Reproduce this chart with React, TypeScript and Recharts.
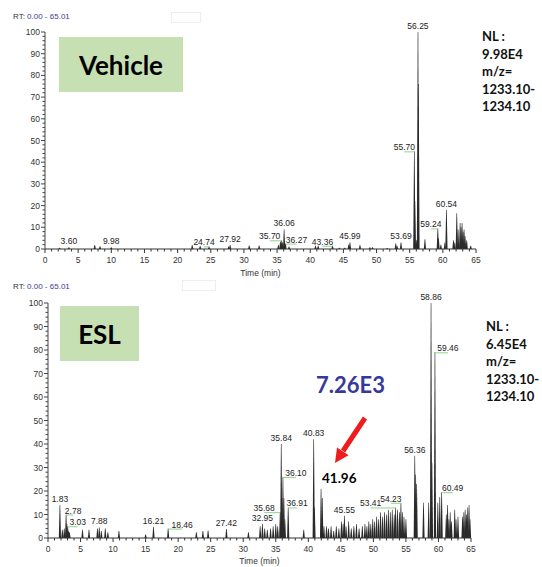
import React from "react";
import { ComposedChart, Bar, XAxis, YAxis } from "recharts";

// ---- Vehicle trace (relative abundance vs retention time) ----
const VEHICLE_TIME = [
  2.2, 3.6, 7.5, 8.3, 9.98, 22.2, 23.4, 24.74, 27.7, 27.92, 30.8, 32.3, 35.2, 35.5, 35.7, 35.85,
  36.06, 36.27, 36.8, 40.8, 41.2, 43.36, 44.4, 45.2, 45.8, 45.99, 47.5, 49.0, 49.4, 51.6, 52.9,
  53.1, 53.69, 55.7, 55.78, 56.0, 56.25, 56.32, 57.3, 59.24, 59.35, 59.7, 60.3, 60.54, 61.6, 61.8,
  62.1, 62.3, 62.6, 62.75, 62.9, 63.05, 63.2, 63.35, 63.6, 64.2,
];
const VEHICLE_INTENSITY = [
  0.6, 0.8, 1.8, 1.3, 0.8, 1.8, 1.4, 1.2, 1.2, 1.8, 1.6, 1.6, 1.8, 3.5, 4, 3,
  9, 2.5, 1.2, 1.5, 1.5, 1.5, 0.6, 0.6, 2, 3, 1.8, 0.8, 0.8, 0.5, 2.5,
  1.5, 3, 45, 22, 4, 100, 76, 4.5, 9.5, 5, 2, 3, 18, 4, 3,
  16.5, 9, 12, 10, 12, 8, 9, 6, 4, 1.5,
];
const VEHICLE_LABELS = [
  "3.60", "9.98", "24.74", "27.92", "35.70", "36.06", "36.27", "43.36", "45.99", "53.69",
  "55.70", "56.25", "59.24", "60.54",
];

// ---- ESL trace ----
const ESL_TIME = [
  1.83, 2.2, 2.5, 2.78, 2.9, 3.03, 3.15, 3.3, 5.3, 6.3, 7.6, 7.88, 8.2, 8.8, 9.2, 10.9, 15.0,
  16.21, 18.46, 22.8, 23.8, 24.6, 27.42, 30.8, 32.6, 32.95, 33.3, 33.7, 34.2, 34.6, 35.0, 35.3,
  35.68, 35.84, 35.95, 36.1, 36.25, 36.4, 36.91, 39.3, 40.83, 40.95, 41.96, 42.15, 42.4, 42.8,
  43.1, 43.5, 43.9, 44.3, 44.7, 45.1, 45.35, 45.55, 45.8, 46.2, 46.6, 47.0, 47.4, 47.8, 48.3,
  48.7, 49.0, 49.3, 49.6, 49.9, 50.2, 50.5, 50.8, 51.1, 51.4, 51.7, 52.0, 52.3, 52.6, 52.9,
  53.2, 53.41, 53.7, 54.0, 54.23, 54.45, 54.7, 55.0, 56.36, 56.5, 56.65, 57.7, 58.5, 58.86,
  59.0, 59.46, 59.9, 60.2, 60.49, 61.2, 61.4, 61.6, 61.8, 62.0, 62.5, 62.7, 63.0, 63.7, 63.9,
  64.1, 64.3, 64.5, 64.7, 64.85,
];
const ESL_INTENSITY = [
  14, 3.5, 4, 10, 6, 5, 3, 2.5, 3.5, 3.5, 4, 4.5, 3, 4, 2.5, 3, 1.5,
  4.8, 4, 2.5, 3, 3.2, 3.8, 2.5, 5, 6, 4, 3.5, 4, 5, 6, 5,
  11, 40, 17, 26, 17, 8, 13, 3.5, 42, 13, 21, 17, 5, 5,
  4, 5, 3, 5, 4, 7, 6, 9.5, 5, 7, 4, 5, 6, 4, 5,
  6, 5, 7, 6, 8, 7, 9, 8, 11, 9, 11, 10, 12, 11, 12,
  10, 13, 12, 11, 15, 11, 9, 8, 35, 27, 23, 15, 15, 100,
  32, 79, 15, 17.5, 19.5, 10, 14, 8, 11, 7, 12, 8, 9, 9, 11,
  12, 10, 13, 14, 8,
];
const ESL_LABELS = [
  "1.83", "2.78", "3.03", "7.88", "16.21", "18.46", "27.42", "32.95", "35.68", "35.84", "36.10",
  "36.91", "40.83", "45.55", "53.41", "54.23", "56.36", "58.86", "59.46", "60.49",
];

const X_MAJOR = [0, 5, 10, 15, 20, 25, 30, 35, 40, 45, 50, 55, 60, 65];
const Y_MAJOR = [0, 10, 20, 30, 40, 50, 60, 70, 80, 90, 100];
const X_TICKS = Array.from({ length: 66 }, (_, i) => i);
const Y_TICKS = Array.from({ length: 51 }, (_, i) => i * 2);

// sideways label pushes (px), drawn with a green leader like the original software
const VEHICLE_SHIFT: Record<string, number> = {
  "24.74": -5, "35.70": -12, "36.27": 11, "43.36": -10, "55.70": -10, "59.24": -7,
};
const ESL_SHIFT: Record<string, number> = {
  "2.78": 7, "3.03": 10, "18.46": 14, "35.68": -16, "36.10": 13, "36.91": 9,
  "53.41": -25, "54.23": -10, "59.46": 13, "60.49": 11,
};

const FONT = "'Liberation Sans', Arial, sans-serif";
const CALIBRI = "Lato, 'Noto Sans', sans-serif";

type Row = { t: number; h: number; label?: string };

function buildRows(times: number[], values: number[], labels: string[]): Row[] {
  return times.map((t, i) => {
    const key = t.toFixed(2);
    return { t, h: values[i], label: labels.includes(key) ? key : undefined };
  });
}

const vehicleRows = buildRows(VEHICLE_TIME, VEHICLE_INTENSITY, VEHICLE_LABELS);
const eslRows = buildRows(ESL_TIME, ESL_INTENSITY, ESL_LABELS);

function makePeak(shift: Record<string, number>) {
  return (props: any) => {
    const { x, y, width, height, payload } = props;
    const cx = x + (width || 0) / 2;
    const h = Math.max(height || 0, 0.6);
    const base = y + (height || 0);
    const top = base - h;
    const label: string | undefined = payload?.label;
    const dx = label ? shift[label] || 0 : 0;
    return (
      <g>
        <polygon
          points={`${cx - 1.1},${base} ${cx - 0.3},${top} ${cx + 0.3},${top} ${cx + 1.1},${base}`}
          fill="#2a2a2a"
        />
        {label && dx !== 0 && (
          <line x1={cx} x2={cx + dx} y1={top + 0.5} y2={top + 0.5} stroke="#8fd18f" strokeWidth={1} />
        )}
        {label && (
          <text
            x={cx + dx}
            y={dx !== 0 ? top - 1 : top - 3}
            textAnchor="middle"
            fontSize={8.5}
            fontFamily={FONT}
            fill="#222"
          >
            {label}
          </text>
        )}
      </g>
    );
  };
}

const XTick = (props: any) => {
  const { x, y, payload } = props;
  const v = payload.value;
  const major = X_MAJOR.includes(v);
  return (
    <g>
      <line x1={x} x2={x} y1={y} y2={y + (major ? 4 : 2.5)} stroke="#333" />
      {major && (
        <text x={x} y={y + 14} textAnchor="middle" fontSize={8.5} fontFamily={FONT} fill="#333">
          {v}
        </text>
      )}
    </g>
  );
};

const YTick = (props: any) => {
  const { x, y, payload } = props;
  const v = payload.value;
  const major = Y_MAJOR.includes(v);
  return (
    <g>
      <line x1={x - (major ? 4 : 2.5)} x2={x} y1={y} y2={y} stroke="#444" />
      {major && (
        <text x={x - 5} y={y + 3} textAnchor="end" fontSize={8.5} fontFamily={FONT} fill="#333">
          {v}
        </text>
      )}
    </g>
  );
};

function Chromatogram({
  rows, shift, height, margin, xHeight, titleOffset,
}: {
  rows: Row[];
  shift: Record<string, number>;
  height: number;
  margin: { top: number; right: number; bottom: number; left: number };
  xHeight: number;
  titleOffset: number;
}) {
  return (
    <ComposedChart width={542} height={height} data={rows} margin={margin}>
      <XAxis
        dataKey="t"
        type="number"
        domain={[0, 65]}
        ticks={X_TICKS}
        interval={0}
        tickLine={false}
        tickSize={0}
        tickMargin={0}
        tick={(p: any) => <XTick {...p} />}
        axisLine={{ stroke: "#333" }}
        height={xHeight}
        label={{
          value: "Time (min)",
          position: "insideBottom",
          offset: titleOffset,
          fontSize: 8.5,
          fontFamily: FONT,
          fill: "#333",
        }}
      />
      <YAxis
        type="number"
        domain={[0, 100]}
        ticks={Y_TICKS}
        interval={0}
        tickLine={false}
        tickSize={0}
        tickMargin={0}
        tick={(p: any) => <YTick {...p} />}
        axisLine={{ stroke: "#444" }}
        width={35}
      />
      <Bar dataKey="h" isAnimationActive={false} shape={makePeak(shift)} />
    </ComposedChart>
  );
}

const abs = (left: number, top: number): React.CSSProperties => ({ position: "absolute", left, top });

function RangeText({ top }: { top: number }) {
  return (
    <div style={{ ...abs(13, top), fontFamily: FONT, fontSize: 8, lineHeight: "10px", whiteSpace: "nowrap" }}>
      <span style={{ color: "#333" }}>RT: </span>
      <span style={{ color: "#3a3a9a" }}>0.00 - 65.01</span>
    </div>
  );
}

function NLText({ left, top, nl }: { left: number; top: number; nl: string }) {
  return (
    <div
      style={{
        ...abs(left, top),
        fontFamily: CALIBRI,
        fontWeight: 700,
        fontSize: 13,
        lineHeight: "17.5px",
        color: "#111",
        whiteSpace: "nowrap",
      }}
    >
      <div>NL :</div>
      <div>{nl}</div>
      <div>m/z=</div>
      <div>1233.10-</div>
      <div>1234.10</div>
    </div>
  );
}

function TagBox({ left, top, w, h, text }: { left: number; top: number; w: number; h: number; text: string }) {
  return (
    <div
      style={{
        ...abs(left, top),
        width: w,
        height: h,
        background: "#c6e0b4",
        display: "flex",
        alignItems: "center",
        justifyContent: "center",
        fontFamily: CALIBRI,
        fontWeight: 700,
        fontSize: 26,
        color: "#000",
      }}
    >
      {text}
    </div>
  );
}

export default function App() {
  return (
    <div style={{ position: "relative", width: 542, height: 567, background: "#fff", overflow: "hidden" }}>
      <style>{"body{margin:0;background:#fff}"}</style>

      <div style={abs(0, 0)}>
        <Chromatogram
          rows={vehicleRows}
          shift={VEHICLE_SHIFT}
          height={280}
          margin={{ top: 32, right: 66, bottom: 0, left: 10 }}
          xHeight={31}
          titleOffset={4}
        />
      </div>
      <div style={abs(0, 280)}>
        <Chromatogram
          rows={eslRows}
          shift={ESL_SHIFT}
          height={287}
          margin={{ top: 23, right: 71, bottom: 0, left: 13 }}
          xHeight={29}
          titleOffset={3}
        />
      </div>

      <RangeText top={12} />
      <RangeText top={282} />
      <div style={{ ...abs(171, 12), width: 28, height: 9, border: "1px solid #eee" }} />
      <div style={{ ...abs(182, 280), width: 32, height: 9, border: "1px solid #eee" }} />

      <TagBox left={59} top={37} w={124} h={55} text="Vehicle" />
      <TagBox left={60} top={306} w={79} h={55} text="ESL" />

      <NLText left={482} top={28} nl="9.98E4" />
      <NLText left={486} top={318} nl="6.45E4" />

      <div
        style={{
          ...abs(316, 371),
          fontFamily: CALIBRI,
          fontWeight: 700,
          fontSize: 22,
          color: "#36399a",
          whiteSpace: "nowrap",
        }}
      >
        7.26E3
      </div>
      <div
        style={{
          ...abs(322, 470),
          fontFamily: CALIBRI,
          fontWeight: 700,
          fontSize: 13.5,
          color: "#000",
          whiteSpace: "nowrap",
        }}
      >
        41.96
      </div>

      <svg width={542} height={567} style={{ ...abs(0, 0), pointerEvents: "none" }}>
        <line x1={365} y1={418} x2={343} y2={451} stroke="#ee1c1c" strokeWidth={5} />
        <polygon points="335,463 348.6,455.3 337,447.5" fill="#ee1c1c" />
      </svg>
    </div>
  );
}
